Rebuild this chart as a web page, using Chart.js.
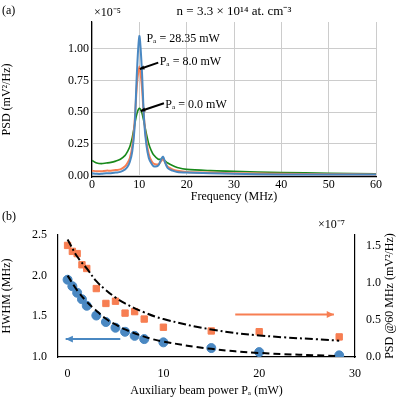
<!DOCTYPE html>
<html>
<head>
<script src="https://cdn.jsdelivr.net/npm/chart.js@4"></script>
<style>
  body { margin: 0; background: #fff; }
  .box { position: absolute; left: 0; width: 400px; }
</style>
</head>
<body>
<div class="box" style="top:0"><canvas id="psdChart" width="400" height="204"></canvas></div>
<div class="box" style="top:200px"><canvas id="hwhmChart" width="400" height="200"></canvas></div>
<script>
const freqs = [0,1,2,3,4,5,6,7,7.5,8,8.5,9,9.5,10,10.5,11,11.5,12,12.5,13,14,14.5,15,15.5,16,17,18,20,25,30,40,50,60];
const psdHigh = [0.02,0.015,0.015,0.02,0.02,0.025,0.03,0.05,0.07,0.11,0.19,0.38,0.82,1.10,0.86,0.44,0.24,0.14,0.1,0.075,0.08,0.12,0.15,0.1,0.06,0.04,0.03,0.025,0.02,0.015,0.01,0.01,0.01];
const psdMid = [0.04,0.035,0.035,0.04,0.04,0.045,0.05,0.075,0.1,0.14,0.23,0.42,0.72,0.86,0.72,0.45,0.27,0.17,0.12,0.095,0.09,0.11,0.13,0.1,0.07,0.05,0.04,0.03,0.025,0.02,0.015,0.012,0.01];
const psdZero = [0.12,0.1,0.095,0.1,0.105,0.115,0.13,0.16,0.19,0.23,0.3,0.4,0.49,0.53,0.5,0.42,0.33,0.25,0.2,0.165,0.13,0.13,0.13,0.115,0.1,0.08,0.065,0.05,0.04,0.035,0.025,0.02,0.015];

const power = [0,0.5,1,1.5,2,3,4,5,6,7,8,10,15,20,28.35];
const hwhm = [1.95,1.87,1.79,1.71,1.63,1.51,1.43,1.36,1.31,1.26,1.22,1.18,1.11,1.06,1.02];
const psd60 = [1.50,1.42,1.39,1.24,1.19,0.92,0.72,0.75,0.59,0.61,0.51,0.40,0.35,0.34,0.27];
const fitPower = [0,1,2,3,4,5,6,8,10,15,20,28.35];
const hwhmFit = [2.0,1.82,1.68,1.57,1.47,1.40,1.34,1.25,1.19,1.10,1.05,1.01];
const psd60Fit = [1.58,1.35,1.19,1.02,0.9,0.8,0.72,0.6,0.51,0.37,0.29,0.22];

const BLUE = '#4a88c2', ORANGE = '#f77e52', GREEN = '#18891a';
const FONT = 'Liberation Serif';
Chart.defaults.font.family = FONT;
Chart.defaults.font.size = 12;
Chart.defaults.color = '#000';

const pts = (xs, ys) => xs.map((x, i) => ({x: x, y: ys[i]}));

function arrow(ctx, x1, y1, x2, y2, color, head) {
  ctx.save();
  ctx.strokeStyle = color; ctx.fillStyle = color; ctx.lineWidth = 2;
  ctx.beginPath(); ctx.moveTo(x1, y1); ctx.lineTo(x2, y2); ctx.stroke();
  const a = Math.atan2(y2 - y1, x2 - x1);
  ctx.beginPath();
  ctx.moveTo(x2, y2);
  ctx.lineTo(x2 - head * Math.cos(a - 0.45), y2 - head * Math.sin(a - 0.45));
  ctx.lineTo(x2 - head * Math.cos(a + 0.45), y2 - head * Math.sin(a + 0.45));
  ctx.closePath(); ctx.fill();
  ctx.restore();
}

const psdText = {
  id: 'psdText',
  afterDatasetsDraw(chart) {
    const {ctx, scales: {x, y}} = chart;
    ctx.save();
    ctx.font = '12px ' + FONT; ctx.textBaseline = 'middle'; ctx.fillStyle = '#000';
    ctx.fillText('Pₐ = 28.35 mW', x.getPixelForValue(11.5), y.getPixelForValue(1.08));
    ctx.fillText('Pₐ = 8.0 mW', x.getPixelForValue(14.3), y.getPixelForValue(0.90));
    ctx.fillText('Pₐ = 0.0 mW', x.getPixelForValue(15.5), y.getPixelForValue(0.56));
    arrow(ctx, x.getPixelForValue(14), y.getPixelForValue(0.89), x.getPixelForValue(10.1), y.getPixelForValue(0.84), '#000', 5);
    arrow(ctx, x.getPixelForValue(15.2), y.getPixelForValue(0.57), x.getPixelForValue(10.3), y.getPixelForValue(0.51), '#000', 5);
    ctx.textBaseline = 'alphabetic';
    ctx.fillText('(a)', 2, 14);
    ctx.fillText('×10⁻⁵', 94, 16);
    ctx.font = '13px ' + FONT; ctx.textAlign = 'center';
    ctx.fillText('n = 3.3 × 10¹⁴ at. cm⁻³', 234, 15);
    ctx.restore();
  }
};

new Chart(document.getElementById('psdChart'), {
  type: 'line',
  data: {
    datasets: [
      {data: pts(freqs, psdHigh), borderColor: BLUE, borderWidth: 2, pointRadius: 0, tension: 0.3},
      {data: pts(freqs, psdMid), borderColor: ORANGE, borderWidth: 2, pointRadius: 0, tension: 0.3},
      {data: pts(freqs, psdZero), borderColor: GREEN, borderWidth: 1.6, pointRadius: 0, tension: 0.3}
    ]
  },
  options: {
    responsive: false, animation: false,
    layout: {padding: {top: 22, right: 24}},
    plugins: {legend: {display: false}, tooltip: {enabled: false}},
    scales: {
      x: {
        type: 'linear', min: 0, max: 60,
        ticks: {stepSize: 10, padding: 1},
        grid: {color: '#ccc', tickLength: 0},
        border: {color: '#000', width: 1.2},
        title: {display: true, text: 'Frequency (MHz)', padding: 0},
        afterFit: s => { s.height = 27; }
      },
      y: {
        min: -0.01, max: 1.21,
        afterBuildTicks: s => { s.ticks = [0, 0.25, 0.5, 0.75, 1].map(v => ({value: v})); },
        ticks: {callback: v => v.toFixed(2), padding: 3},
        grid: {color: '#ccc', tickLength: 0},
        border: {color: '#000', width: 1.2},
        title: {display: true, text: 'PSD (mV²/Hz)', padding: 0},
        afterFit: s => { s.width = 92; }
      }
    }
  },
  plugins: [psdText]
});

const hwhmText = {
  id: 'hwhmText',
  afterDatasetsDraw(chart) {
    const {ctx, scales: {x, y, y2}} = chart;
    arrow(ctx, x.getPixelForValue(5.5), y.getPixelForValue(1.22), x.getPixelForValue(-0.2), y.getPixelForValue(1.22), BLUE, 8);
    arrow(ctx, x.getPixelForValue(17.5), y2.getPixelForValue(0.57), x.getPixelForValue(27.8), y2.getPixelForValue(0.57), ORANGE, 8);
    ctx.save();
    ctx.font = '12px ' + FONT; ctx.fillStyle = '#000';
    ctx.fillText('(b)', 2, 20);
    ctx.fillText('×10⁻⁷', 318, 28);
    ctx.translate(393, (chart.chartArea.top + chart.chartArea.bottom) / 2);
    ctx.rotate(-Math.PI / 2);
    ctx.textAlign = 'center';
    ctx.fillText('PSD @60 MHz (mV²/Hz)', 0, 0);
    ctx.restore();
  }
};

new Chart(document.getElementById('hwhmChart'), {
  type: 'scatter',
  data: {
    datasets: [
      {data: pts(fitPower, psd60Fit), yAxisID: 'y2', type: 'line', borderColor: '#000', borderWidth: 2, borderDash: [8, 3, 2, 3], pointRadius: 0, tension: 0.4},
      {data: pts(fitPower, hwhmFit), yAxisID: 'y', type: 'line', borderColor: '#000', borderWidth: 2, borderDash: [7, 4], pointRadius: 0, tension: 0.4},
      {data: pts(power, psd60), yAxisID: 'y2', backgroundColor: ORANGE, borderColor: ORANGE, pointStyle: 'rect', pointRadius: 4.5},
      {data: pts(power, hwhm), yAxisID: 'y', backgroundColor: BLUE, borderColor: BLUE, pointStyle: 'circle', pointRadius: 4.5}
    ]
  },
  options: {
    responsive: false, animation: false,
    layout: {padding: {top: 35}},
    plugins: {legend: {display: false}, tooltip: {enabled: false}},
    scales: {
      x: {
        type: 'linear', min: -1, max: 30,
        afterBuildTicks: s => { s.ticks = [0, 10, 20, 30].map(v => ({value: v})); },
        ticks: {padding: 2},
        grid: {display: false},
        border: {color: '#000', width: 1.2},
        title: {display: true, text: 'Auxiliary beam power Pₐ (mW)', padding: 2},
        afterFit: s => { s.height = 43; }
      },
      y: {
        position: 'left', min: 1.0, max: 2.5,
        ticks: {stepSize: 0.5, callback: v => v.toFixed(1), padding: 3},
        grid: {display: false},
        border: {color: '#000', width: 1.2},
        title: {display: true, text: 'HWHM (MHz)', padding: 0},
        afterFit: s => { s.width = 58; }
      },
      y2: {
        position: 'right', min: 0, max: 1.64,
        afterBuildTicks: s => { s.ticks = [0, 0.5, 1, 1.5].map(v => ({value: v})); },
        ticks: {callback: v => v.toFixed(1), padding: 3},
        grid: {display: false},
        border: {color: '#000', width: 1.2},
        afterFit: s => { s.width = 45; }
      }
    }
  },
  plugins: [hwhmText]
});
</script>
</body>
</html>
